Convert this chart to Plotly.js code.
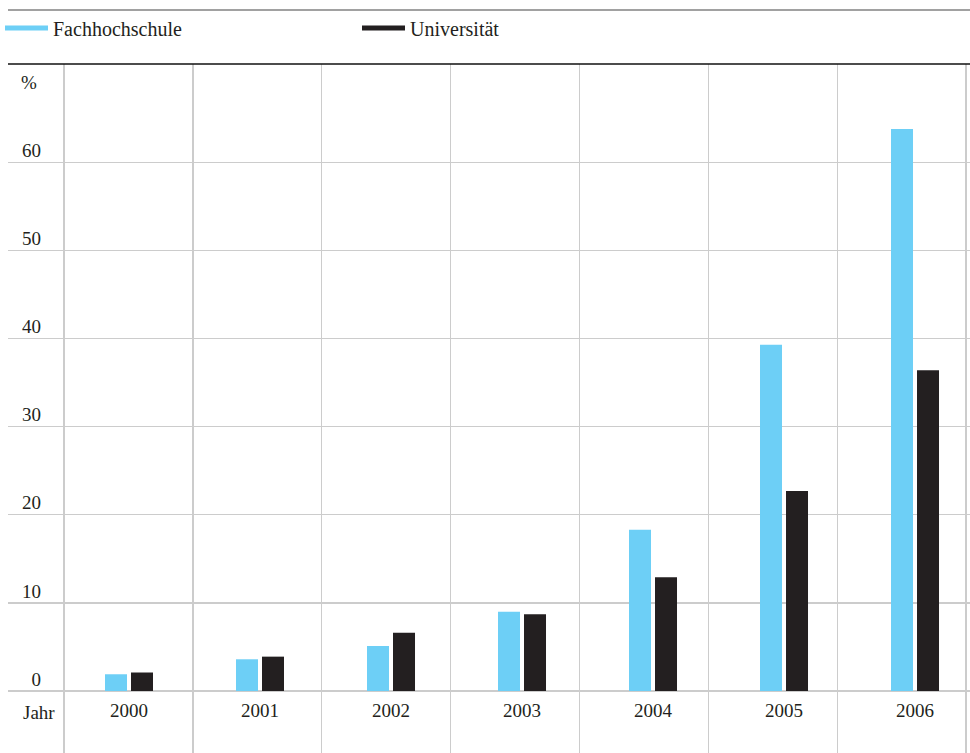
<!DOCTYPE html>
<html>
<head>
<meta charset="utf-8">
<script src="https://cdn.plot.ly/plotly-3.0.1.min.js"></script>
<style>html,body{margin:0;padding:0;background:#fff;}#chart{width:970px;height:753px;}</style>
</head>
<body>
<div id="chart"></div>
<script>
var years = ["2000", "2001", "2002", "2003", "2004", "2005", "2006"];
var fachhochschule = [1.9, 3.6, 5.1, 9.0, 18.3, 39.3, 63.8];
var universitaet = [2.1, 3.9, 6.6, 8.7, 12.9, 22.7, 36.4];
var yTicks = [0, 10, 20, 30, 40, 50, 60];
var gridBoundaries = [0, 1, 2, 3, 4, 5, 6, 7];
var seriesNames = ["Fachhochschule", "Universität"];
var colors = ["#6dcff6", "#231f20"];

var FONT = "'Liberation Serif', 'Times New Roman', Times, serif";
var W = 970, H = 753;
var mL = 8, mR = 0, mT = 64, mB = 0;
var plotW = W - mL - mR, plotH = H - mT - mB;
function px(x) { return (x - mL) / plotW; }
function py(y) { return (H - mB - y) / plotH; }

var traces = [
  {type: "scatter", mode: "markers", x: [], y: [], xaxis: "x2", yaxis: "y", showlegend: false, hoverinfo: "skip"},
  {type: "bar", x: years, y: fachhochschule, name: seriesNames[0], marker: {color: colors[0]}, showlegend: false, hoverinfo: "x+y"},
  {type: "bar", x: years, y: universitaet, name: seriesNames[1], marker: {color: colors[1]}, showlegend: false, hoverinfo: "x+y"},
  {type: "scatter", mode: "lines", x: [null], y: [null], name: seriesNames[0], line: {color: colors[0], width: 5}, hoverinfo: "skip"},
  {type: "scatter", mode: "lines", x: [null], y: [null], name: seriesNames[1], line: {color: colors[1], width: 5}, hoverinfo: "skip"}
];

var layout = {
  width: W, height: H,
  margin: {l: mL, r: mR, t: mT, b: mB, pad: 0},
  paper_bgcolor: "#ffffff", plot_bgcolor: "rgba(0,0,0,0)",
  font: {family: FONT, size: 19, color: "#231f20"},
  barmode: "group",
  bargap: 0.603,
  bargroupgap: 0.1538,
  showlegend: true,
  legend: {
    orientation: "h", xref: "container", yref: "container",
    x: 0, y: 1 - 28 / H, xanchor: "left", yanchor: "middle",
    entrywidth: 299, entrywidthmode: "pixels",
    itemwidth: 43, font: {family: FONT, size: 20, color: "#231f20"},
    bgcolor: "rgba(0,0,0,0)", borderwidth: 0, traceorder: "normal"
  },
  xaxis: {
    type: "category",
    range: [-0.9237, 6.4198],
    showgrid: false,
    ticks: "", showline: false, zeroline: false,
    anchor: "free", position: py(691),
    ticklabelstandoff: 6,
    tickfont: {family: FONT, size: 19, color: "#231f20"},
    automargin: false, fixedrange: true
  },
  xaxis2: {
    overlaying: "x", anchor: "y",
    range: [(8 - 64) / 128.86, (970 - 64) / 128.86],
    tickmode: "array", tickvals: gridBoundaries,
    showticklabels: false, ticks: "",
    showgrid: true, gridcolor: "#cccccc", gridwidth: 1.3,
    showline: false, zeroline: false,
    automargin: false, fixedrange: true
  },
  yaxis: {
    range: [(691 - 753) / 8.81, (691 - 64) / 8.81],
    tickmode: "array", tickvals: yTicks,
    showgrid: true, gridcolor: "#cccccc", gridwidth: 1.3,
    zeroline: false, showline: false, ticks: "",
    anchor: "free", position: px(64), side: "left",
    ticklabelstandoff: 23, ticklabelshift: -12,
    tickfont: {family: FONT, size: 19, color: "#231f20"},
    automargin: false, fixedrange: true
  },
  annotations: [
    {xref: "paper", yref: "paper", x: px(28.5), y: py(82), text: "%", showarrow: false,
     xanchor: "center", yanchor: "middle", font: {family: FONT, size: 19, color: "#231f20"}},
    {xref: "paper", yref: "paper", x: px(57), y: py(712), text: "Jahr", showarrow: false,
     xanchor: "right", yanchor: "middle", font: {family: FONT, size: 19, color: "#231f20"}}
  ],
  shapes: [
    {type: "line", xref: "paper", yref: "paper", x0: 0, x1: 1, y0: py(10), y1: py(10),
     line: {color: "#444444", width: 1.2}},
    {type: "line", xref: "paper", yref: "paper", x0: 0, x1: 1, y0: py(64), y1: py(64),
     line: {color: "#111111", width: 1.5}}
  ]
};

Plotly.newPlot("chart", traces, layout, {displayModeBar: false, staticPlot: true});
</script>
</body>
</html>
